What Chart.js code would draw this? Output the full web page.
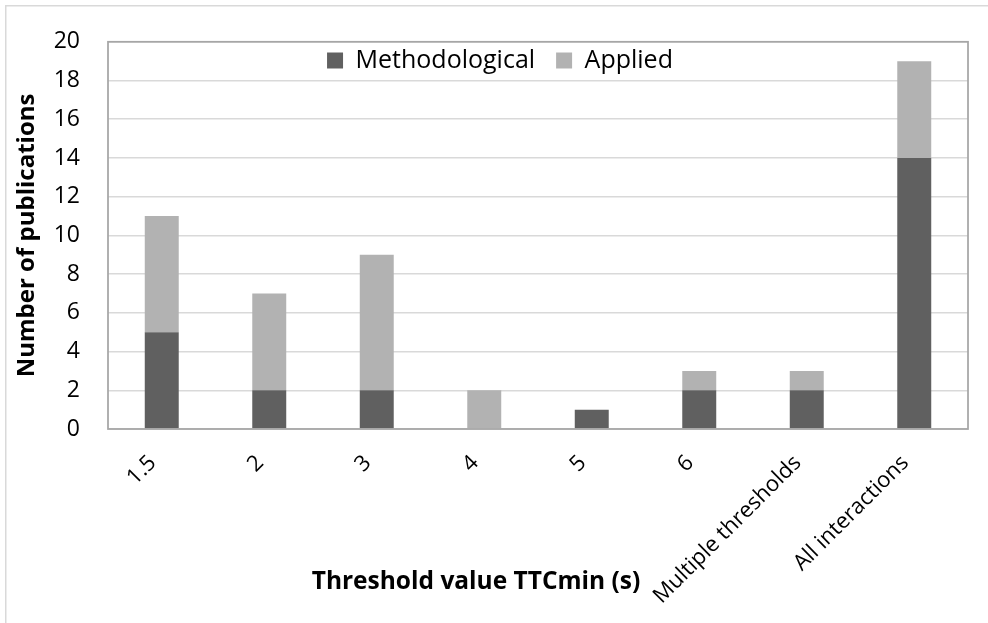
<!DOCTYPE html>
<html>
<head>
<meta charset="utf-8">
<script src="https://cdn.jsdelivr.net/npm/chart.js@4/dist/chart.umd.min.js"></script>
<style>
  html, body { margin: 0; padding: 0; background: #ffffff; }
  #wrap { width: 988px; height: 623px; position: relative; }
</style>
</head>
<body>
<div id="wrap"><canvas id="c" width="988" height="623"></canvas></div>
<script>
const categories = ["1.5", "2", "3", "4", "5", "6", "Multiple thresholds", "All interactions"];
const methodological = [5, 2, 2, 0, 1, 2, 2, 14];
const applied = [6, 5, 7, 2, 0, 1, 1, 5];
const yTicks = [0, 2, 4, 6, 8, 10, 12, 14, 16, 18, 20];
const seriesNames = ["Methodological", "Applied"];
const xTitle = "Threshold value TTCmin (s)";
const yTitle = "Number of publications";

const FONT = "'Open Sans', Lato, sans-serif";

const customPlugin = {
  id: 'custom',
  beforeInit(chart) {
    const lg = chart.legend;
    if (lg) {
      const origFit = lg.fit;
      lg.fit = function () { origFit.call(this); this.height = 0; };
    }
  },
  afterLayout(chart) {
    const l = chart.legend;
    if (l) {
      l.top = 27; l.bottom = 27 + 60; l.height = 60;
      l.left += 16; l.right += 16;
    }
  },
  beforeDraw(chart) {
    const ctx = chart.ctx;
    ctx.save();
    ctx.fillStyle = '#ffffff';
    ctx.fillRect(0, 0, chart.width, chart.height);
    ctx.strokeStyle = '#d9d9d9';
    ctx.lineWidth = 1.5;
    ctx.strokeRect(5.75, 5.75, chart.width + 20, chart.height + 20);
    ctx.restore();
  },
  afterDatasetsDraw(chart) {
    const ctx = chart.ctx, a = chart.chartArea;
    ctx.save();
    ctx.strokeStyle = '#a6a6a6';
    ctx.lineWidth = 1.75;
    ctx.strokeRect(a.left, a.top, a.right - a.left, a.bottom - a.top);
    ctx.restore();
  },
  afterDraw(chart) {
    const ctx = chart.ctx;
    ctx.save();
    ctx.font = "bold 24.5px " + FONT;
    ctx.fillStyle = '#000000';
    ctx.textAlign = 'center';
    ctx.textBaseline = 'middle';
    ctx.fillText(xTitle, 476, 582);
    ctx.restore();
  }
};

new Chart(document.getElementById('c'), {
  type: 'bar',
  data: {
    labels: categories,
    datasets: [
      { label: seriesNames[0], data: methodological, backgroundColor: '#606060', borderWidth: 0,
        barPercentage: 0.316, categoryPercentage: 1.0 },
      { label: seriesNames[1], data: applied, backgroundColor: '#b2b2b2', borderWidth: 0,
        barPercentage: 0.316, categoryPercentage: 1.0 }
    ]
  },
  options: {
    responsive: false,
    devicePixelRatio: 1,
    animation: false,
    layout: { padding: { left: 0, right: 20, top: 38, bottom: 0 } },
    plugins: {
      legend: {
        display: true,
        position: 'top',
        align: 'center',
        labels: {
          boxWidth: 16, boxHeight: 16, padding: 21,
          color: '#000000',
          font: { family: FONT, size: 25 }
        }
      },
      tooltip: { enabled: false },
      title: { display: false }
    },
    scales: {
      x: {
        stacked: true,
        grid: { display: false, drawTicks: false },
        border: { display: false },
        ticks: {
          color: '#000000',
          font: { family: FONT, size: 22 },
          minRotation: 45, maxRotation: 45,
          padding: 21,
          labelOffset: -9,
          autoSkip: false
        },
        afterFit(s) { s.height = 623 - 429; }
      },
      y: {
        stacked: true,
        min: 0, max: 20,
        afterBuildTicks(s) { s.ticks = yTicks.map(v => ({ value: v })); },
        grid: { color: '#d9d9d9', lineWidth: 1.5, drawTicks: false },
        border: { display: false },
        ticks: {
          color: '#000000',
          font: { family: FONT, size: 23 },
          padding: 28
        },
        title: {
          display: true,
          text: yTitle,
          color: '#000000',
          font: { family: FONT, size: 24, weight: 'bold' },
          padding: { top: 13, bottom: 0 }
        },
        afterFit(s) { s.width = 108; }
      }
    }
  },
  plugins: [customPlugin]
});
</script>
</body>
</html>
